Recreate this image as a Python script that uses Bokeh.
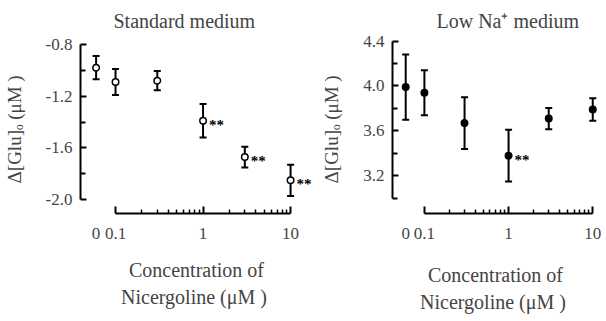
from bokeh.plotting import figure
from bokeh.models import (ColumnDataSource, LinearAxis, LogAxis, FixedTicker,
                          CustomJSTickFormatter, PrintfTickFormatter, Whisker,
                          TeeHead, Title, Range1d)
from bokeh.layouts import row
from bokeh.core.properties import value
from bokeh.embed import file_html
from bokeh.resources import INLINE

# ---------------- data ----------------
conc = [0, 0.1, 0.3, 1, 3, 10]                     # Nicergoline (uM)
std_mean = [-0.98, -1.09, -1.08, -1.39, -1.67, -1.85]
std_err = [0.09, 0.10, 0.075, 0.13, 0.08, 0.12]
std_sig = ["", "", "", "**", "**", "**"]
lowna_mean = [3.99, 3.94, 3.67, 3.38, 3.71, 3.79]
lowna_err = [0.29, 0.20, 0.23, 0.23, 0.095, 0.10]
lowna_sig = ["", "", "", "**", "", ""]
x_ticks = [0.1, 1, 10]
x_minor = [0.2, 0.3, 0.4, 0.5, 0.6, 0.7, 0.8, 0.9, 2, 3, 4, 5, 6, 7, 8, 9]
std_yticks = [-2.0, -1.6, -1.2, -0.8]
std_yminor = [-1.8, -1.4, -1.0]
lowna_yticks = [3.2, 3.6, 4.0, 4.4]
lowna_yminor = [3.0, 3.4, 3.8, 4.2]
x_title_1 = "Concentration of"
x_title_2 = "Nicergoline  (μM )"
y_title = "Δ[Glu]ₒ  (μM )"

ZERO_POS = 0.06   # where the "0" concentration is drawn on the broken log axis
FONT = "Liberation Serif"


def panel(title, mean, err, sig, yticks, yminor, ybounds, yrange, xrange,
          width, border_left, border_right, border_bottom, title_off,
          x_standoff, xt_standoff, filled):
    p = figure(width=width, height=321, x_axis_type="log",
               x_axis_location=None, y_axis_location=None,
               x_range=Range1d(*xrange), y_range=Range1d(*yrange),
               output_backend="svg", toolbar_location=None,
               min_border_left=border_left, min_border_right=border_right,
               min_border_top=40, min_border_bottom=border_bottom)
    p.outline_line_color = None
    p.grid.visible = False
    p.background_fill_color = "white"

    xs = [c if c > 0 else ZERO_POS for c in conc]
    src = ColumnDataSource(dict(
        x=xs, y=mean,
        upper=[m + e for m, e in zip(mean, err)],
        lower=[m - e for m, e in zip(mean, err)]))
    sig_idx = [i for i, s in enumerate(sig) if s]
    sig_src = ColumnDataSource(dict(
        x=[xs[i] for i in sig_idx], y=[mean[i] for i in sig_idx],
        sig=[sig[i] for i in sig_idx]))

    # y axis
    ya = LinearAxis(ticker=FixedTicker(ticks=yticks, minor_ticks=yminor),
                    formatter=PrintfTickFormatter(format="%.1f"),
                    bounds=ybounds, axis_label=y_title)
    ya.axis_line_width = 2
    ya.major_tick_in = 6
    ya.major_tick_out = 0
    ya.minor_tick_in = 5
    ya.minor_tick_out = 0
    ya.major_tick_line_width = 2
    ya.minor_tick_line_width = 2
    ya.major_label_text_font = FONT
    ya.major_label_text_font_size = "17px"
    ya.major_label_standoff = 8
    ya.axis_label_text_font = FONT
    ya.axis_label_text_font_size = "19px"
    ya.axis_label_text_font_style = "normal"
    ya.axis_label_standoff = 18
    p.add_layout(ya, "left")

    # x axis: line and ticks only (0.1 .. 10)
    xa = LogAxis(ticker=FixedTicker(ticks=x_ticks, minor_ticks=x_minor),
                 formatter=CustomJSTickFormatter(code="return String(tick);"),
                 bounds=(x_ticks[0], x_ticks[-1]))
    xa.axis_line_width = 2
    xa.major_tick_in = 7
    xa.major_tick_out = 0
    xa.minor_tick_in = 4
    xa.minor_tick_out = 0
    xa.major_tick_line_width = 2
    xa.minor_tick_line_width = 1.5
    xa.major_label_text_font_size = "1px"
    xa.major_label_text_alpha = 0
    xa.major_label_standoff = 0
    p.add_layout(xa, "below")

    # x axis labels (including the separate "0") and first title line
    xl = LogAxis(ticker=FixedTicker(ticks=[ZERO_POS] + x_ticks, minor_ticks=[]),
                 formatter=CustomJSTickFormatter(
                     code=f"return tick < {ZERO_POS * 1.3} ? '0' : String(tick);"),
                 axis_label=x_title_1)
    xl.axis_line_color = None
    xl.major_tick_line_color = None
    xl.minor_tick_line_color = None
    xl.major_tick_in = 0
    xl.major_tick_out = 0
    xl.major_label_text_font = FONT
    xl.major_label_text_font_size = "17px"
    xl.major_label_standoff = x_standoff
    xl.axis_label_text_font = FONT
    xl.axis_label_text_font_size = "20px"
    xl.axis_label_text_font_style = "normal"
    xl.axis_label_standoff = xt_standoff
    p.add_layout(xl, "below")

    xt2 = Title(text=x_title_2, align="center",
                text_font=FONT, text_font_size="20px",
                text_font_style="normal", standoff=0)
    p.add_layout(xt2, "below")

    p.title = Title(text=title, align="left", offset=title_off,
                    text_font=FONT, text_font_size="20px",
                    text_font_style="normal", vertical_align="middle",
                    standoff=16)

    wh = Whisker(source=src, base="x", upper="upper", lower="lower",
                 dimension="height", line_width=2, line_color="black",
                 upper_head=TeeHead(size=7, line_width=2, line_color="black"),
                 lower_head=TeeHead(size=7, line_width=2, line_color="black"))
    p.add_layout(wh)

    p.scatter("x", "y", source=src, marker="circle", size=6.5,
              line_color="black", line_width=1.5,
              fill_color="black" if filled else "white")

    p.text("x", "y", text="sig", source=sig_src, x_offset=6, y_offset=4,
           text_baseline="middle", text_align="left",
           text_font=value(FONT), text_font_size=value("15px"),
           text_font_style="bold", text_color="black")
    return p


left = panel("Standard medium", std_mean, std_err, std_sig,
             std_yticks, std_yminor, (-2.0, -0.8), (-2.106, -0.770),
             (0.0398, 17.8), 318, 80, 6, 104, 33, 14, 17, False)
right = panel("Low Na⁺ medium", lowna_mean, lowna_err, lowna_sig,
              lowna_yticks, lowna_yminor, (3.0, 4.4), (2.865, 4.405),
              (0.0418, 11.7), 288, 67, 8, 108, 44, 14, 22, True)

layout = row(left, right)
open("out.html", "w").write(file_html(layout, INLINE))
